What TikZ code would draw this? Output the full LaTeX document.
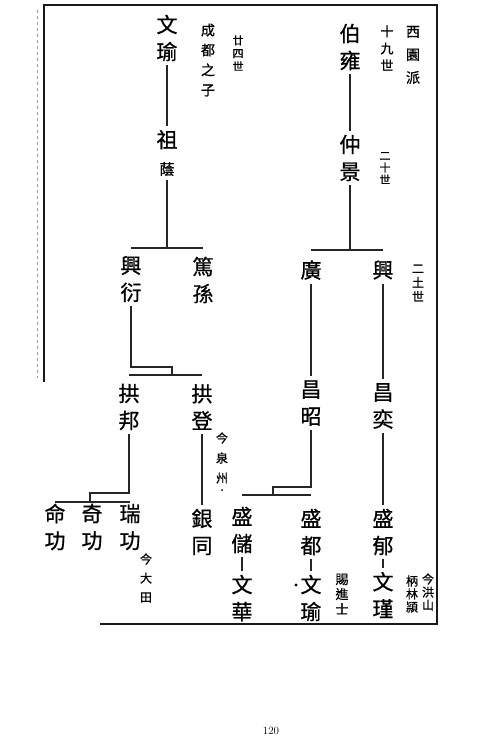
\documentclass[tikz,border=0pt]{standalone}
\usepackage{fontspec}
\newfontfamily\cjk[FakeBold=0.8]{Noto Sans CJK TC}

\begin{document}
\begin{tikzpicture}[x=1pt, y=-1pt,
    person/.style={font=\cjk\fontsize{21}{27}\selectfont, align=center,
                   inner xsep=1pt, inner ysep=4pt},
    note/.style 2 args={font=\cjk\fontsize{#1}{#2}\selectfont, align=center,
                        inner sep=1pt},
    link/.style={line width=1.1pt, black!85},
    frame/.style={line width=1.8pt, black!90},
]
\useasboundingbox (0,0) rectangle (500,741);

% Page frame
\draw[frame] (44,382) -- (44,5) -- (437,5) -- (437,624) -- (100,624);
\draw[black!40, dashed, line width=0.8pt] (37,10) -- (37,378);

% Left branch
\node[person] (wenyuA) at (167,38) {文\\瑜};
\node[note={14}{20}] (chengdu) at (208,60) {成\\都\\之\\子};
\node[note={11}{13}] (gen24) at (238,53) {廿\\四\\世};
\node[person] (zuyin) at (167,153) {祖\\\fontsize{15}{16}\selectfont 蔭};

\node[person] (xingyan) at (131,279) {興\\衍};
\node[person] (dusun) at (203,280) {篤\\孫};

\node[person] (gongbang) at (129,407) {拱\\邦};
\node[person] (gongdeng) at (202,407) {拱\\登};
\node[note={12}{20}] (quanzhou) at (222,458) {今\\泉\\州};

\node[person] (minggong) at (55,527) {命\\功};
\node[person] (qigong) at (92,527) {奇\\功};
\node[person] (ruigong) at (130,527) {瑞\\功};
\node[note={12}{19}] (datian) at (146,578) {今\\大\\田};
\node[person] (yintong) at (202,532) {銀\\同};

\draw[link] (wenyuA.south) -- (zuyin.north);
\coordinate (forkL) at (167,248);
\draw[link] (zuyin.south) -- (forkL);
\draw[link] (xingyan.north |- forkL) -- (dusun.north |- forkL);

\coordinate (jogL) at (172,367);
\coordinate (barL) at (172,375);
\draw[link] (xingyan.south) |- (jogL) -- (barL);
\draw[link] (gongbang.north |- barL) -- (gongdeng.north |- barL);

\coordinate (jogB) at (90,493);
\coordinate (barB) at (90,502);
\draw[link] (gongbang.south) |- (jogB) -- (barB);
\draw[link] (minggong.north |- barB) -- (ruigong.north |- barB);
\draw[link] (gongdeng.south) -- (yintong.north);
\fill (222,490) circle (1);

% Right branch
\node[person] (boyong) at (350,47) {伯\\雍};
\node[note={13}{17}] (gen19) at (387,48) {十\\九\\世};
\node[note={14}{23}] (xiyuan) at (413,55) {西\\園\\派};
\node[person] (zhongjing) at (350,158) {仲\\景};
\node[note={11}{12}] (gen20) at (385,168) {二\\十\\世};

\node[person] (guang) at (311,270) {廣};
\node[person] (xing) at (383,270) {興};
\node[note={12}{14}] (gen21) at (418,283) {二\\土\\世};

\node[person] (changzhao) at (311,403) {昌\\昭};
\node[person] (changyi) at (383,406) {昌\\奕};

\node[person] (shengchu) at (242,530) {盛\\儲};
\node[person] (wenhua) at (242,598) {文\\華};
\node[person] (shengdu) at (311,532) {盛\\都};
\node[person] (wenyuB) at (311,598) {文\\瑜};
\node[note={13}{15}] (jinshi) at (342,594) {賜\\進\\士};
\node[person] (shengyu) at (383,532) {盛\\郁};
\node[person] (wenjin) at (383,595) {文\\瑾};
\node[note={12}{13}] (linying) at (412,594) {柄\\林\\頴};
\node[note={12}{13}] (hongshan) at (428,592) {今\\洪\\山};

\draw[link] (boyong.south) -- (zhongjing.north);
\coordinate (forkR) at (350,250);
\draw[link] (zhongjing.south) -- (forkR);
\draw[link] (guang.north |- forkR) -- (xing.north |- forkR);
\draw[link] (guang.south) -- (changzhao.north);
\draw[link] (xing.south) -- (changyi.north);

\coordinate (jogR) at (273,487);
\coordinate (barR) at (273,495);
\draw[link] (changzhao.south) |- (jogR) -- (barR);
\draw[link] (shengchu.north |- barR) -- (shengdu.north |- barR);
\draw[link] (changyi.south) -- (shengyu.north);
\draw[link] (shengchu.south) -- (wenhua.north);
\draw[link] (shengdu.south) -- (wenyuB.north);
\draw[link] (shengyu.south) -- (wenjin.north);
\fill (296,585) circle (1.6);

% Page number
\node[font=\fontsize{11}{13}\selectfont] (pageno) at (271,731) {120};

\end{tikzpicture}
\end{document}
